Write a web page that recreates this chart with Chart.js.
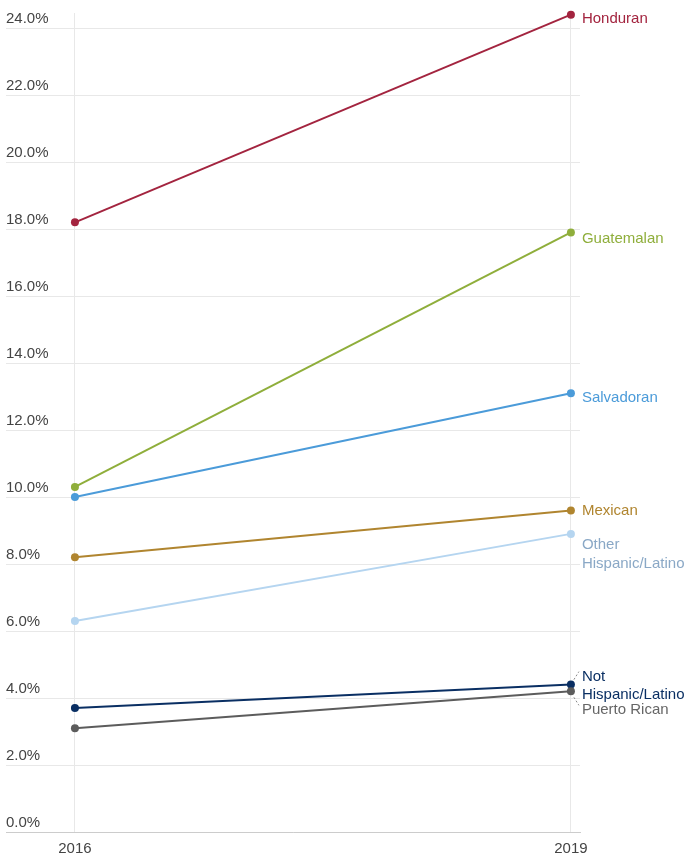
<!DOCTYPE html>
<html>
<head>
<meta charset="utf-8">
<script src="https://cdn.jsdelivr.net/npm/chart.js@4"></script>
<style>
	html, body { margin: 0; padding: 0; background: #fff; }
	#wrap { width: 686px; height: 856px; position: relative; }
</style>
</head>
<body>
<div id="wrap"><canvas id="chart"></canvas></div>
<script>
const years = [2016, 2019]
const yTicks = [0, 2, 4, 6, 8, 10, 12, 14, 16, 18, 20, 22, 24]

const honduran = [18.2, 24.4]
const guatemalan = [10.3, 17.9]
const salvadoran = [10.0, 13.1]
const mexican = [8.2, 9.6]
const otherHispanic = [6.3, 8.9]
const notHispanic = [3.7, 4.4]
const puertoRican = [3.1, 4.2]

const FONT = "Helvetica, Arial, 'Liberation Sans', sans-serif"

// label lines + vertical nudges (px) next to the last point
const series = [
	{ name: ["Honduran"], data: honduran, color: "#a3243f", text: "#a3243f", dy: [4] },
	{ name: ["Guatemalan"], data: guatemalan, color: "#8fae3b", text: "#8fae3b", dy: [6] },
	{ name: ["Salvadoran"], data: salvadoran, color: "#4b9bd9", text: "#4b9bd9", dy: [5] },
	{ name: ["Mexican"], data: mexican, color: "#b0852f", text: "#b0852f", dy: [0] },
	{ name: ["Other", "Hispanic/Latino"], data: otherHispanic, color: "#b5d5f0", text: "#8aa8c6", dy: [11, 30] },
	{ name: ["Puerto Rican"], data: puertoRican, color: "#5c5c5c", text: "#666666", dy: [19], leader: [3, 6, 8, 14] },
	{ name: ["Not", "Hispanic/Latino"], data: notHispanic, color: "#0a2f63", text: "#0a2f63", dy: [-8, 10], leader: [3, -5, 8, -13] }
]

const endLabels = {
	id: "endLabels",
	afterDatasetsDraw(chart) {
		const ctx = chart.ctx
		ctx.save()
		ctx.font = "15px " + FONT
		ctx.textBaseline = "middle"
		ctx.textAlign = "left"
		chart.data.datasets.forEach((ds, i) => {
			const s = series[i]
			const meta = chart.getDatasetMeta(i)
			const pt = meta.data[meta.data.length - 1]
			if(s.leader) {
				ctx.setLineDash([2, 2])
				ctx.strokeStyle = "#888"
				ctx.lineWidth = 1
				ctx.beginPath()
				ctx.moveTo(pt.x + s.leader[0], pt.y + s.leader[1])
				ctx.lineTo(pt.x + s.leader[2], pt.y + s.leader[3])
				ctx.stroke()
				ctx.setLineDash([])
			}
			ctx.fillStyle = s.text
			s.name.forEach((line, j) => {
				ctx.fillText(line, pt.x + 11, pt.y + s.dy[j])
			})
		})
		ctx.restore()
	}
}

new Chart(document.getElementById("chart"), {
	type: "line",
	data: {
		datasets: series.map(s => ({
			label: s.name.join(" "),
			data: years.map((y, i) => ({ x: y, y: s.data[i] })),
			borderColor: s.color,
			backgroundColor: s.color,
			pointBackgroundColor: s.color,
			borderWidth: 2,
			pointRadius: 4,
			pointBorderWidth: 0,
			clip: false
		}))
	},
	options: {
		responsive: true,
		maintainAspectRatio: false,
		animation: false,
		layout: { padding: { left: 6, right: 106, top: 13, bottom: -10 } },
		plugins: { legend: { display: false }, tooltip: { enabled: false } },
		scales: {
			x: {
				type: "linear",
				min: 2015.583,
				max: 2019.055,
				afterBuildTicks: axis => { axis.ticks = years.map(v => ({ value: v })) },
				grid: { color: "#e8e8e8", drawTicks: false },
				border: { display: true, color: "#cccccc" },
				ticks: {
					callback: v => String(v),
					color: "#444",
					font: { family: FONT, size: 15 },
					padding: 8,
					maxRotation: 0
				}
			},
			y: {
				min: 0,
				max: 24.45,
				afterBuildTicks: axis => { axis.ticks = yTicks.map(v => ({ value: v })) },
				grid: { color: "#e8e8e8", drawTicks: false },
				border: { display: false },
				ticks: {
					mirror: true,
					padding: 0,
					labelOffset: -9,
					callback: v => v.toFixed(1) + "%",
					color: "#444",
					font: { family: FONT, size: 15 }
				}
			}
		}
	},
	plugins: [endLabels]
})
</script>
</body>
</html>
